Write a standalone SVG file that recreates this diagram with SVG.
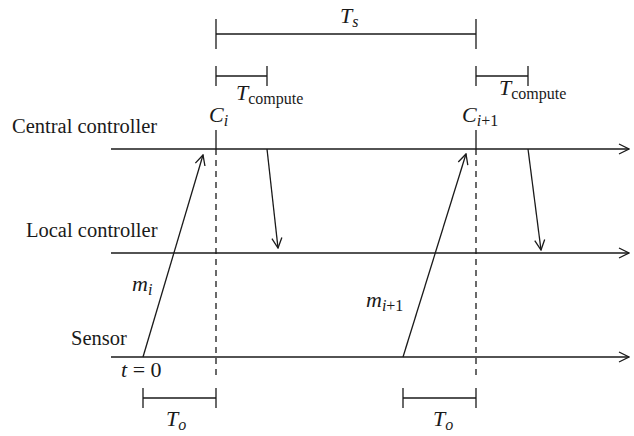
<svg xmlns="http://www.w3.org/2000/svg" width="634" height="436" viewBox="0 0 634 436">
<style>
.ln{stroke:#1a1a1a;stroke-width:1.3;fill:none}
.dash{stroke:#1a1a1a;stroke-width:1.3;fill:none;stroke-dasharray:6,5}
.lbl{font-family:"Liberation Serif","Times New Roman",serif;font-size:20.5px;fill:#1a1a1a}
.m{font-family:"Liberation Serif","Times New Roman",serif;font-size:22px;font-style:italic;fill:#1a1a1a}
.sub{font-size:16px}
.subr{font-size:16px;font-style:normal}
</style>
<defs>
<marker id="ah" viewBox="0 0 12 12" refX="11" refY="6" markerWidth="12" markerHeight="12" markerUnits="userSpaceOnUse" orient="auto">
<path d="M1,1 L11,6 L1,11" fill="none" stroke="#1a1a1a" stroke-width="1.3"/>
</marker>
</defs>
<g id="timelines">
<g id="central"><line class="ln" x1="111" y1="149" x2="629" y2="149" marker-end="url(#ah)"/><text class="lbl" x="12" y="133">Central controller</text></g>
<g id="local"><line class="ln" x1="111" y1="253" x2="629" y2="253" marker-end="url(#ah)"/><text class="lbl" x="26" y="237">Local controller</text></g>
<g id="sensor"><line class="ln" x1="111" y1="357" x2="629" y2="357" marker-end="url(#ah)"/><text class="lbl" x="71" y="345">Sensor</text><text class="m" x="121" y="377">t<tspan font-style="normal"> = 0</tspan></text></g>
</g>
<g id="ci">
<line class="ln" x1="216" y1="130" x2="216" y2="149"/>
<line class="dash" x1="216" y1="149" x2="216" y2="378"/>
<text class="m" x="209" y="122">C<tspan class="sub" dy="4">i</tspan></text>
</g>
<g id="ci1">
<line class="ln" x1="476" y1="130" x2="476" y2="149"/>
<line class="dash" x1="476" y1="149" x2="476" y2="378"/>
<text class="m" x="462" y="122">C<tspan class="sub" dy="4">i</tspan><tspan class="subr">+1</tspan></text>
</g>
<g id="Ts">
<line class="ln" x1="216" y1="34" x2="476" y2="34"/>
<line class="ln" x1="216" y1="19" x2="216" y2="49"/>
<line class="ln" x1="476" y1="19" x2="476" y2="49"/>
<text class="m" x="340" y="23">T<tspan class="sub" dy="4">s</tspan></text>
</g>
<g id="Tc1">
<line class="ln" x1="216" y1="76" x2="267" y2="76"/>
<line class="ln" x1="216" y1="66" x2="216" y2="86"/>
<line class="ln" x1="267" y1="66" x2="267" y2="86"/>
<text class="m" x="236" y="100">T<tspan class="subr" dy="4">compute</tspan></text>
</g>
<g id="Tc2">
<line class="ln" x1="476" y1="76" x2="528" y2="76"/>
<line class="ln" x1="476" y1="66" x2="476" y2="86"/>
<line class="ln" x1="528" y1="66" x2="528" y2="86"/>
<text class="m" x="499" y="95">T<tspan class="subr" dy="4">compute</tspan></text>
</g>
<g id="To1">
<line class="ln" x1="143" y1="398" x2="216" y2="398"/>
<line class="ln" x1="143" y1="388" x2="143" y2="408"/>
<line class="ln" x1="216" y1="388" x2="216" y2="408"/>
<text class="m" x="166" y="426">T<tspan class="sub" dy="4">o</tspan></text>
</g>
<g id="To2">
<line class="ln" x1="403" y1="398" x2="476" y2="398"/>
<line class="ln" x1="403" y1="388" x2="403" y2="408"/>
<line class="ln" x1="476" y1="388" x2="476" y2="408"/>
<text class="m" x="433" y="426">T<tspan class="sub" dy="4">o</tspan></text>
</g>
<g id="connectors">
<line class="ln" x1="143" y1="357" x2="203" y2="155" marker-end="url(#ah)"/>
<line class="ln" x1="403" y1="357" x2="466" y2="154" marker-end="url(#ah)"/>
<line class="ln" x1="267" y1="149" x2="278" y2="248" marker-end="url(#ah)"/>
<line class="ln" x1="528" y1="149" x2="541" y2="250" marker-end="url(#ah)"/>
<text class="m" x="132" y="291">m<tspan class="sub" dy="4">i</tspan></text>
<text class="m" x="366" y="307">m<tspan class="sub" dy="4">i</tspan><tspan class="subr">+1</tspan></text>
</g>
</svg>
